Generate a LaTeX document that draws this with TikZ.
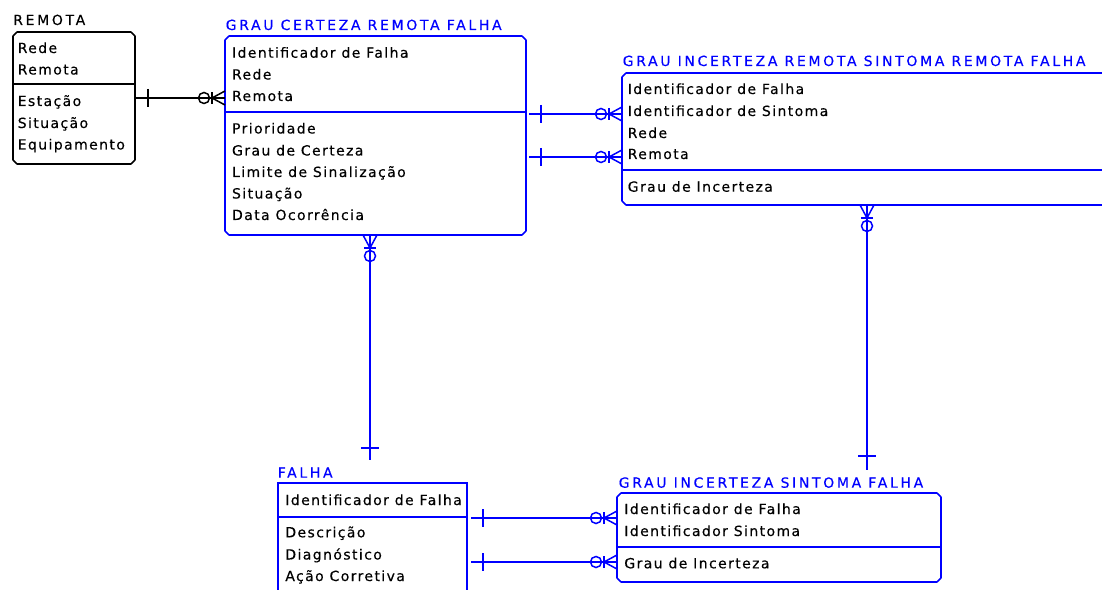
\documentclass[tikz,border=0pt]{standalone}
\usepackage{fontspec}
\newfontfamily\erbody[LetterSpace=10,FakeBold=0.3]{DejaVu Sans}
\newfontfamily\ertitle[LetterSpace=19,FakeBold=0.3]{DejaVu Sans}
\definecolor{erblue}{RGB}{0,0,255}

% outline of a dependent entity: rectangle with cut corners
% (straight sides and corner cuts stroked as separate paths)
\newcommand\erframe[2]{%
  \draw[#2] ([xshift=4bp]#1.north west) -- ([xshift=-4bp]#1.north east)
    ([yshift=-4bp]#1.north east) -- ([yshift=4bp]#1.south east)
    ([xshift=-4bp]#1.south east) -- ([xshift=4bp]#1.south west)
    ([yshift=4bp]#1.south west) -- ([yshift=-4bp]#1.north west);
  \draw[#2, line cap=round]
    ([xshift=-4bp]#1.north east) -- ([yshift=-4bp]#1.north east)
    ([yshift=4bp]#1.south east) -- ([xshift=-4bp]#1.south east)
    ([xshift=4bp]#1.south west) -- ([yshift=4bp]#1.south west)
    ([yshift=-4bp]#1.north west) -- ([xshift=4bp]#1.north west);}

\begin{document}
\begin{tikzpicture}[x=1bp,y=-1bp,line width=1.5bp,
  ent/.style={rectangle, draw=none, inner sep=0pt, outer sep=0pt},
  indep/.style={rectangle, draw, inner sep=0pt, outer sep=0pt},
  attr/.style={anchor=base west, inner sep=0pt, text=black,
    font=\erbody\fontsize{14bp}{16bp}\selectfont},
  title/.style={anchor=base west, inner sep=0pt,
    font=\ertitle\fontsize{14bp}{16bp}\selectfont},
  % zero-or-many end: crow's foot on the box edge, ring further out
  zmany/.pic={
    \draw (0,-7) -- (13,0) -- (0,7);
    \draw (13,-6) -- (13,6);
    \draw (21,0) circle[radius=5.5bp];
  },
  % exactly-one end: bar across the line
  onemark/.pic={\draw (#1,-9) -- (#1,9);},
]
\useasboundingbox (0,0) rectangle (1102,590);
\fill[white] (0,0) rectangle (1102,590);
\clip (0,0) rectangle (1102,590);

% ---------------- REMOTA ----------------
\node[title, text=black] (remota-t) at (12.5,25) {REMOTA};
\node[ent, minimum width=122bp, minimum height=132bp] (remota) at (74,98) {};
\erframe{remota}{black}
\draw[black] (remota.west |- 0,84) -- (remota.east |- 0,84);
\node[attr] (remota-1) at (17,53) {Rede};
\node[attr] (remota-2) at (17,74.5) {Remota};
\node[attr] (remota-3) at (17,106) {Estação};
\node[attr] (remota-4) at (17,128) {Situação};
\node[attr] (remota-5) at (17,149.5) {Equipamento};

% ---------------- GRAU CERTEZA REMOTA FALHA ----------------
\node[title, text=erblue] (gcrf-t) at (225,30) {GRAU CERTEZA REMOTA FALHA};
\node[ent, minimum width=301bp, minimum height=199bp] (gcrf) at (375.5,135.5) {};
\erframe{gcrf}{erblue}
\draw[erblue] (gcrf.west |- 0,112) -- (gcrf.east |- 0,112);
\node[attr] (gcrf-1) at (231.3,57.7) {Identificador de Falha};
\node[attr] (gcrf-2) at (231.3,79.5) {Rede};
\node[attr] (gcrf-3) at (231.3,101) {Remota};
\node[attr] (gcrf-4) at (231.3,133.5) {Prioridade};
\node[attr] (gcrf-5) at (231.3,155.5) {Grau de Certeza};
\node[attr] (gcrf-6) at (231.3,177) {Limite de Sinalização};
\node[attr] (gcrf-7) at (231.3,198.5) {Situação};
\node[attr] (gcrf-8) at (231.3,220) {Data Ocorrência};

% ---------------- GRAU INCERTEZA REMOTA SINTOMA REMOTA FALHA ----------------
\node[title, text=erblue] (girsrf-t) at (622,66) {GRAU INCERTEZA REMOTA SINTOMA REMOTA FALHA};
\node[ent, minimum width=518bp, minimum height=132bp] (girsrf) at (881,139) {};
\erframe{girsrf}{erblue}
\draw[erblue] (girsrf.west |- 0,170) -- (girsrf.east |- 0,170);
\node[attr] (girsrf-1) at (627,94) {Identificador de Falha};
\node[attr] (girsrf-2) at (627,116) {Identificador de Sintoma};
\node[attr] (girsrf-3) at (627,138) {Rede};
\node[attr] (girsrf-4) at (627,159) {Remota};
\node[attr] (girsrf-5) at (627,191.7) {Grau de Incerteza};

% ---------------- FALHA ----------------
\node[title, text=erblue] (falha-t) at (277,477.7) {FALHA};
\node[indep, draw=erblue, minimum width=189bp, minimum height=157bp] (falha) at (372.5,561.5) {};
\draw[erblue] (falha.west |- 0,517) -- (falha.east |- 0,517);
\node[attr] (falha-1) at (284.6,505) {Identificador de Falha};
\node[attr] (falha-2) at (284.6,537.3) {Descrição};
\node[attr] (falha-3) at (284.6,559.5) {Diagnóstico};
\node[attr] (falha-4) at (284.6,581) {Ação Corretiva};

% ---------------- GRAU INCERTEZA SINTOMA FALHA ----------------
\node[title, text=erblue] (gisf-t) at (618,487.7) {GRAU INCERTEZA SINTOMA FALHA};
\node[ent, minimum width=324bp, minimum height=89bp] (gisf) at (779,537.5) {};
\erframe{gisf}{erblue}
\draw[erblue] (gisf.west |- 0,547) -- (gisf.east |- 0,547);
\node[attr] (gisf-1) at (623.6,514) {Identificador de Falha};
\node[attr] (gisf-2) at (623.6,536) {Identificador Sintoma};
\node[attr] (gisf-3) at (623.6,568.3) {Grau de Incerteza};

% ---------------- relationships ----------------
% REMOTA -> GRAU CERTEZA REMOTA FALHA
\draw[black, shorten <=1bp] (remota.east |- 0,98) -- (gcrf.west |- 0,98);
\path (remota.east |- 0,98) pic[black]{onemark=13};
\path (gcrf.west |- 0,98) pic[black, rotate=180]{zmany};

% GRAU CERTEZA REMOTA FALHA -> GRAU INCERTEZA REMOTA SINTOMA REMOTA FALHA
\draw[erblue, shorten <=3bp] (gcrf.east |- 0,114) -- (girsrf.west |- 0,114);
\path (gcrf.east |- 0,114) pic[erblue]{onemark=15};
\path (girsrf.west |- 0,114) pic[erblue, rotate=180]{zmany};
\draw[erblue, shorten <=3bp] (gcrf.east |- 0,157) -- (girsrf.west |- 0,157);
\path (gcrf.east |- 0,157) pic[erblue]{onemark=15};
\path (girsrf.west |- 0,157) pic[erblue, rotate=180]{zmany};

% FALHA -> GRAU CERTEZA REMOTA FALHA
\coordinate (falha-up) at (370,460);
\draw[erblue] (gcrf.south -| 370,0) -- (falha-up);
\path (gcrf.south -| 370,0) pic[erblue, rotate=-90]{zmany};
\path (falha-up) pic[erblue, rotate=90]{onemark=12};

% GRAU INCERTEZA SINTOMA FALHA -> GRAU INCERTEZA REMOTA SINTOMA REMOTA FALHA
\coordinate (gisf-up) at (867,470);
\draw[erblue] (girsrf.south -| 867,0) -- (gisf-up);
\path (girsrf.south -| 867,0) pic[erblue, rotate=-90]{zmany};
\path (gisf-up) pic[erblue, rotate=90]{onemark=14};

% FALHA -> GRAU INCERTEZA SINTOMA FALHA
\draw[erblue, shorten <=4bp] (falha.east |- 0,518) -- (gisf.west |- 0,518);
\path (falha.east |- 0,518) pic[erblue]{onemark=16};
\path (gisf.west |- 0,518) pic[erblue, rotate=180]{zmany};
\draw[erblue, shorten <=4bp] (falha.east |- 0,562) -- (gisf.west |- 0,562);
\path (falha.east |- 0,562) pic[erblue]{onemark=16};
\path (gisf.west |- 0,562) pic[erblue, rotate=180]{zmany};
\end{tikzpicture}
\end{document}
